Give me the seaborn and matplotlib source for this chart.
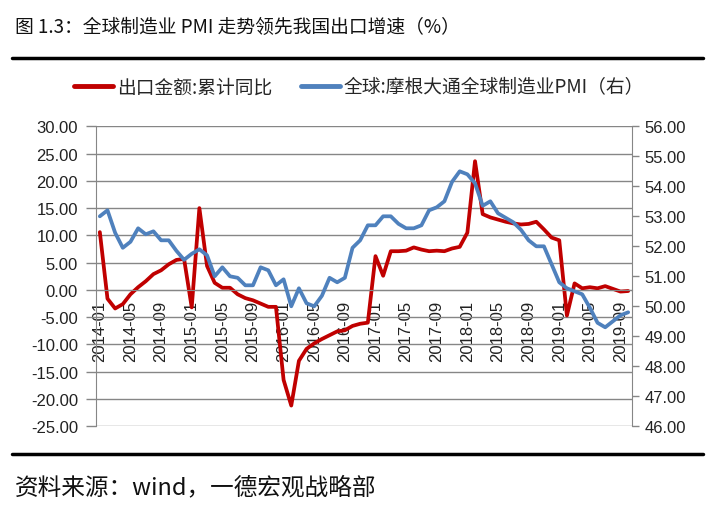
import numpy as np
import pandas as pd
import matplotlib
matplotlib.use("Agg")
import matplotlib.pyplot as plt
from matplotlib.lines import Line2D
import seaborn as sns

months = pd.date_range("2014-01", periods=70, freq="MS").strftime("%Y-%m").tolist()

export_yoy = [10.6, -1.6, -3.4, -2.6, -0.8, 0.5, 1.6, 2.9, 3.6, 4.7, 5.5, 5.7,
              -3.2, 15.0, 4.4, 1.3, 0.4, 0.4, -0.8, -1.5, -1.9, -2.5, -3.1, -3.1,
              -16.5, -21.2, -13.0, -10.8, -9.8, -9.0, -8.3, -7.6, -7.4, -6.6, -6.2, -6.0,
              6.2, 2.6, 7.1, 7.1, 7.2, 7.8, 7.4, 7.1, 7.2, 7.1, 7.6, 7.9,
              10.5, 23.6, 13.9, 13.3, 12.9, 12.5, 12.2, 12.0, 12.1, 12.5, 11.1, 9.6,
              9.1, -4.7, 1.2, 0.3, 0.5, 0.3, 0.7, 0.2, -0.3, -0.2]

global_pmi = [53.0, 53.2, 52.45, 51.95, 52.15, 52.6, 52.4, 52.5, 52.2, 52.2, 51.85, 51.55,
              51.75, 51.9, 51.7, 51.0, 51.3, 51.0, 50.95, 50.7, 50.7, 51.3, 51.2, 50.7,
              50.9, 50.0, 50.6, 50.1, 50.0, 50.35, 50.95, 50.8, 50.95, 51.95, 52.2, 52.7,
              52.7, 53.0, 53.0, 52.75, 52.6, 52.6, 52.7, 53.2, 53.3, 53.5, 54.15, 54.5,
              54.4, 54.1, 53.35, 53.5, 53.1, 52.95, 52.8, 52.55, 52.2, 52.0, 52.0, 51.4,
              50.8, 50.6, 50.5, 50.4, 49.95, 49.45, 49.3, 49.5, 49.7, 49.8]

left_ticks = [-25, -20, -15, -10, -5, 0, 5, 10, 15, 20, 25, 30]
right_ticks = [46, 47, 48, 49, 50, 51, 52, 53, 54, 55, 56]

title = "图 1.3：全球制造业 PMI 走势领先我国出口增速（%）"
source = "资料来源：wind，一德宏观战略部"
name_export = "出口金额:累计同比"
name_pmi = "全球:摩根大通全球制造业PMI（右）"

sns.set_style("white")
plt.rcParams["font.family"] = ["Noto Sans CJK SC", "DejaVu Sans"]

df = pd.DataFrame({"pos": np.arange(len(months)), "month": months,
                   "export": export_yoy, "pmi": global_pmi})

W, H = 715, 510
fig = plt.figure(figsize=(W / 100, H / 100), dpi=100)
ax = fig.add_axes([96 / W, 1 - 427.3 / H, 536 / W, 300 / H])
ax2 = ax.twinx()

RED = "#C00000"
BLUE = "#4F81BD"
GRID = "#868686"

sns.lineplot(data=df, x="pos", y="export", ax=ax, color=RED, lw=2.7, legend=False)
sns.lineplot(data=df, x="pos", y="pmi", ax=ax2, color=BLUE, lw=2.7, legend=False)

ax.set_xlim(-0.5, len(months) - 0.5)
ax.set_ylim(-25, 30)
ax2.set_ylim(46, 56)
ax.set_xlabel("")
ax.set_ylabel("")
ax2.set_ylabel("")

# spines first (repositioning a spine resets its ticks)
ax.spines["bottom"].set_position(("data", 0))
ax.spines["bottom"].set_color(GRID)
ax.spines["left"].set_color(GRID)
ax.spines["top"].set_visible(False)
ax.spines["right"].set_visible(False)
for s in ["left", "top", "bottom"]:
    ax2.spines[s].set_visible(False)
ax2.spines["right"].set_color(GRID)

label_pos = list(range(0, len(months), 4))
ax.set_xticks(label_pos)
ax.set_xticks([p - 0.5 for p in label_pos], minor=True)
ax.set_yticks(left_ticks)
ax2.set_yticks(right_ticks)

ax.tick_params(axis="x", which="minor", length=5, width=1, color=GRID, direction="out")
ax.tick_params(axis="x", which="major", length=0, pad=7)
ax.tick_params(axis="y", length=7, width=1, color=GRID, direction="out", pad=6)
ax2.tick_params(axis="y", length=5, width=1, color=GRID, direction="out", pad=4)

tick_font = dict(family="Liberation Sans", size=12, color="#222222")
ax.set_yticklabels([f"{v:.2f}" for v in left_ticks], fontdict=tick_font)
ax2.set_yticklabels([f"{v:.2f}" for v in right_ticks], fontdict=tick_font)
ax.set_xticklabels([months[i] for i in label_pos], fontdict=tick_font, rotation=90)

ax.grid(True, axis="y", color=GRID, lw=1)
ax.grid(False, axis="x")
ax2.grid(False)
ax.set_axisbelow(True)

handles = [Line2D([], [], color=RED, lw=3.5), Line2D([], [], color=BLUE, lw=3.5)]
fig.legend(handles, [name_export, name_pmi], loc="center",
           bbox_to_anchor=(359 / W, 1 - 88 / H), ncol=2, frameon=False,
           fontsize=13.5, handlelength=2.1, handletextpad=0.2, columnspacing=1.5)

fig.text(15 / W, 1 - 28 / H, title, fontsize=13.5, ha="left", va="center", color="#111111")
fig.text(15 / W, 1 - 488 / H, source, fontsize=17, ha="left", va="center", color="#111111")
fig.add_artist(Line2D([12 / W, 703 / W], [1 - 59 / H] * 2, color="black", lw=2.5))
fig.add_artist(Line2D([12 / W, 703 / W], [1 - 455 / H] * 2, color="black", lw=2.5))

fig.savefig("out.png", dpi=100, facecolor="white")
